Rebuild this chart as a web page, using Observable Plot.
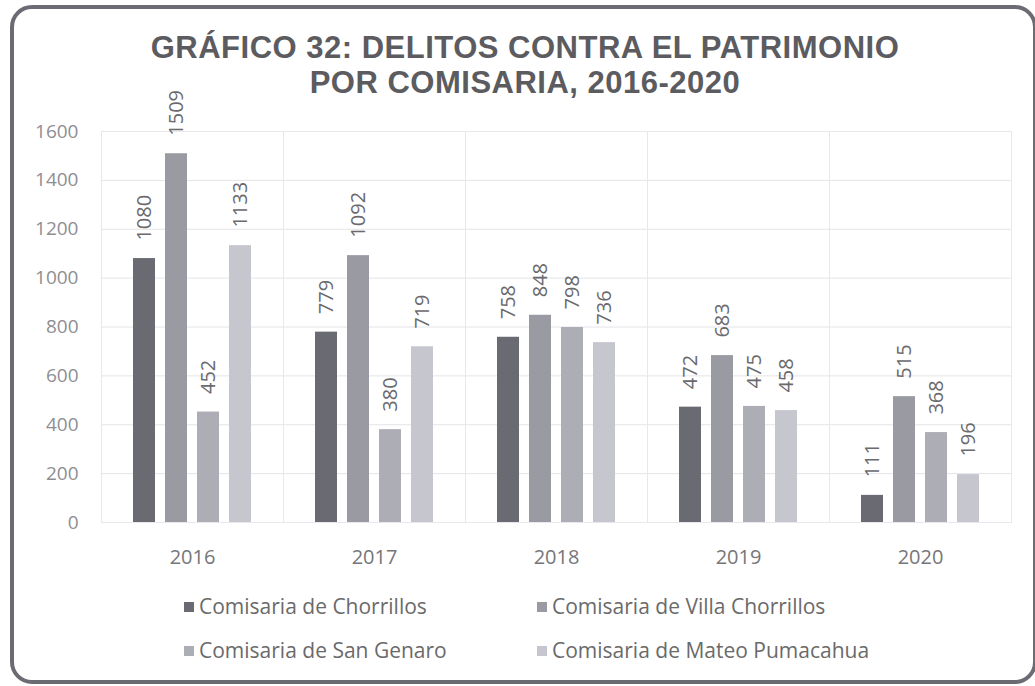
<!DOCTYPE html>
<html><head><meta charset="utf-8">
<script src="https://cdn.jsdelivr.net/npm/d3@7"></script>
<script src="https://cdn.jsdelivr.net/npm/@observablehq/plot@0.6"></script>
<style>
body{margin:0;background:#fff;}
#wrap{position:relative;width:1035px;height:686px;overflow:hidden;background:#fff;font-family:"Open Sans",sans-serif;}
#frame{position:absolute;left:10px;top:5px;width:1019px;height:671px;border:4px solid #6b6b73;border-radius:22px;}
#title{position:absolute;left:0;top:30px;width:1050px;text-align:center;font-family:"Liberation Sans",Arial,sans-serif;font-weight:bold;font-size:31px;letter-spacing:0.5px;line-height:35px;color:#5b5b60;}
#chart{position:absolute;left:0;top:0;}
.leg{position:absolute;font-size:21px;color:#6a6a6a;white-space:nowrap;line-height:24px;}
.sw{position:absolute;width:10px;height:10px;}
</style>
</head><body>
<div id="wrap">
  <div id="frame"></div>
  <div id="title">GRÁFICO 32: DELITOS CONTRA EL PATRIMONIO<br>POR COMISARIA, 2016-2020</div>
  <div id="chart"></div>
  <div id="legend"></div>
</div>
<script>
const years = ["2016", "2017", "2018", "2019", "2020"];
const series = ["Comisaria de Chorrillos", "Comisaria de Villa Chorrillos", "Comisaria de San Genaro", "Comisaria de Mateo Pumacahua"];
const chorrillos = [1080, 779, 758, 472, 111];
const villaChorrillos = [1509, 1092, 848, 683, 515];
const sanGenaro = [452, 380, 798, 475, 368];
const mateoPumacahua = [1133, 719, 736, 458, 196];
const yTicks = [0, 200, 400, 600, 800, 1000, 1200, 1400, 1600];
const colors = ["#6a6a73", "#9a9aa3", "#adadb6", "#c6c6cf"];

const values = [chorrillos, villaChorrillos, sanGenaro, mateoPumacahua];
const data = [];
years.forEach((yr, i) => series.forEach((s, j) => data.push({year: yr, series: s, value: values[j][i]})));

const chart = Plot.plot({
  width: 1035,
  height: 580,
  marginTop: 131,
  marginBottom: 58,
  marginLeft: 101,
  marginRight: 24,
  style: {fontFamily: "Open Sans, sans-serif", background: "transparent"},
  fx: {domain: years, padding: 0, label: null},
  x: {domain: series, axis: null, paddingInner: 0.32, paddingOuter: 0.95},
  y: {domain: [0, 1600], label: null},
  color: {domain: series, range: colors},
  marks: [
    Plot.gridY(yTicks, {stroke: "#e4e4e8", strokeOpacity: 1}),
    Plot.frame({stroke: "#e8e8ec"}),
    Plot.axisY(yTicks, {tickSize: 0, tickPadding: 23, fontSize: 19, fill: "#8e8e92", tickFormat: d => String(d), label: null}),
    Plot.axisFx({anchor: "bottom", tickSize: 0, tickPadding: 27, fontSize: 20, fill: "#76767a", label: null}),
    Plot.barY(data, {fx: "year", x: "series", y: "value", fill: "series"}),
    Plot.text(data, {fx: "year", x: "series", y: "value", text: d => String(d.value), rotate: -90, textAnchor: "start", dy: -18, fontSize: 20, fill: "#6a6a6e"})
  ]
});
document.getElementById("chart").appendChild(chart);

const legendPos = [[184, 607], [537, 607], [184, 651], [537, 651]];
const legend = document.getElementById("legend");
series.forEach((s, i) => {
  const [lx, ly] = legendPos[i];
  const sw = document.createElement("div");
  sw.className = "sw";
  sw.style.left = lx + "px";
  sw.style.top = (ly - 5) + "px";
  sw.style.background = colors[i];
  legend.appendChild(sw);
  const t = document.createElement("div");
  t.className = "leg";
  t.style.left = (lx + 15) + "px";
  t.style.top = (ly - 13) + "px";
  t.textContent = s;
  legend.appendChild(t);
});
</script>
</body></html>
